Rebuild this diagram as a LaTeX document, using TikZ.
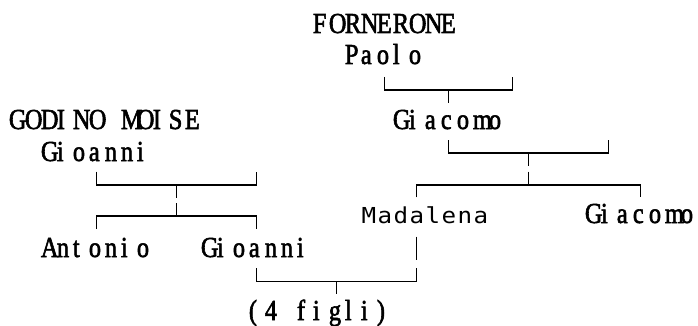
\documentclass[tikz,border=0pt]{standalone}
\usepackage{fontspec}
\newfontfamily\serifcell[FakeStretch=0.84,FakeBold=2]{Liberation Serif}
\newfontfamily\monocell[FakeStretch=1.1]{DejaVu Sans Mono}
\newlength\cellw
\setlength\cellw{16pt}
% one character per cell, as on a text screen
\newcommand\cellsl[1]{\cellslloop#1\relax}
\def\cellslloop#1{\ifx#1\relax\else\makebox[\cellw][l]{#1}\expandafter\cellslloop\fi}
\newcommand\cellsc[1]{\cellscloop#1\relax}
\def\cellscloop#1{\ifx#1\relax\else\makebox[\cellw][c]{#1}\expandafter\cellscloop\fi}
\tikzset{
  person/.style={anchor=base west, inner sep=0pt, font=\serifcell\fontsize{29}{30}\selectfont},
  personsans/.style={anchor=base west, inner sep=0pt, font=\monocell\fontsize{22}{22}\selectfont},
  link/.style={line width=1.4pt}
}
\begin{document}
\begin{tikzpicture}[x=16pt,y=-1pt]
\useasboundingbox (0pt,0pt) rectangle (698pt,-326pt);
\begin{scope}[xshift=16.7pt]
% names
\node[person] (forn)     at (18.5,33)  {\cellsl{FORNERONE}};
\node[person] (paolo)    at (20.5,64)  {\cellsl{Paolo}};
\node[person] (giacA)    at (23.5,129) {\cellsl{Giacomo}};
\node[person] (godino)   at (-0.5,129) {\cellsl{GODINO~MOISE}};
\node[person] (gioA)     at (1.5,161)  {\cellsl{Gioanni}};
\node[personsans] (mada) at (21.5,223) {\cellsc{Madalena}};
\node[person] (giacB)    at (35.5,223) {\cellsl{Giacomo}};
\node[person] (antonio)  at (1.5,257)  {\cellsl{Antonio}};
\node[person] (gioB)     at (11.5,257) {\cellsl{Gioanni}};
\node[person] (figli)    at (14.5,320) {\cellsl{(4~figli)}};
% junctions
\coordinate (jpaolo) at (27,90);
\coordinate (jgiacA) at (32,153);
\coordinate (kgiacA) at (32,185);
\coordinate (jgodino) at (10,185);
\coordinate (kgodino) at (10,216);
\coordinate (jfigli) at (20,281.7);
% Paolo -> Giacomo
\draw[link] (23,77) |- (jpaolo) -| (31,77);
\draw[link] (jpaolo) -- (27,102.7);
% Giacomo -> Madalena, Giacomo
\draw[link] (27,140) |- (jgiacA) -| (37,140);
\draw[link] (jgiacA) -- (32,166);
\draw[link] (32,171.7) -- (kgiacA);
\draw[link] (25,197.3) |- (kgiacA) -| (39,197.3);
% Godino Gioanni -> Antonio, Gioanni
\draw[link] (5,171.7) |- (jgodino) -| (15,171.7);
\draw[link] (jgodino) -- (10,198);
\draw[link] (10,203) -- (kgodino);
\draw[link] (5,229) |- (kgodino) -| (15,229);
% Gioanni + Madalena -> children
\draw[link] (25,236.7) -- (25,260);
\draw[link] (15,268.3) |- (jfigli) -| (25,268);
\draw[link] (jfigli) -- (20,294);
\end{scope}
\end{tikzpicture}
\end{document}
